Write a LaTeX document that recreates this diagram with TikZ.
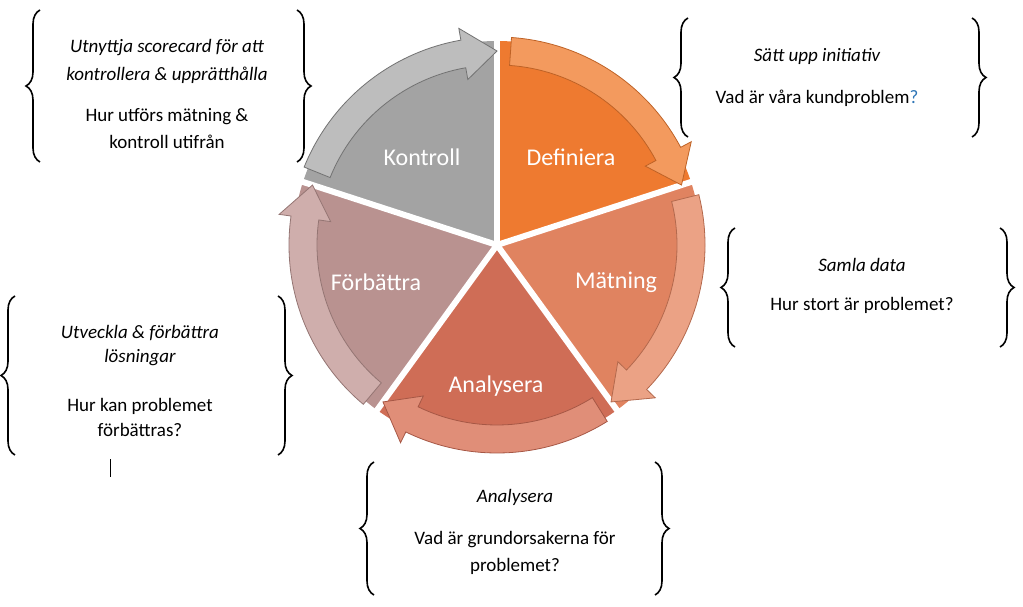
\documentclass[tikz,border=0pt]{standalone}
\usepackage{fontspec}
\setmainfont{Carlito}
\usetikzlibrary{calc,decorations.pathreplacing}
\definecolor{cDef}{HTML}{EE7A30}
\definecolor{cDefA}{HTML}{F39A5E}
\definecolor{cMat}{HTML}{E08360}
\definecolor{cMatA}{HTML}{EBA285}
\definecolor{cAna}{HTML}{CF6D56}
\definecolor{cAnaA}{HTML}{E08E78}
\definecolor{cFor}{HTML}{B99290}
\definecolor{cForA}{HTML}{CFAEAC}
\definecolor{cKon}{HTML}{A3A3A3}
\definecolor{cKonA}{HTML}{BDBDBD}
\definecolor{qblue}{HTML}{2E75B6}
\newcommand\mywedge[3]{\fill[#3] (C) -- ($(C)+(#1:204)$) arc[start angle=#1,end angle=#2,radius=204] -- cycle;}
\newcommand\myband[4]{%
 \fill[#3,draw=#4,line width=0.8pt] ($(C)+(#1:208)$) arc[start angle=#1,end angle=#2,radius=208]
  -- ($(C)+(#2:220)$) -- ($(C)+(#2-10:194)$) -- ($(C)+(#2:168)$) -- ($(C)+(#2:180)$)
  arc[start angle=#2,end angle=#1,radius=180] -- cycle;}
\begin{document}
\begin{tikzpicture}[x=1pt,y=1pt,
  brc/.style={decorate,decoration={brace,amplitude=14pt},line width=1.6pt},
  txt/.style={font=\fontsize{19}{24}\selectfont,align=center},
  lbl/.style={font=\fontsize{24}{28}\selectfont,text=white}]
\useasboundingbox (0,0) rectangle (1023,607);
\coordinate (C) at (497,362);
\mywedge{162}{90}{cKon}
\mywedge{90}{18}{cDef}
\mywedge{18}{-54}{cMat}
\mywedge{-54}{-126}{cAna}
\mywedge{-126}{-198}{cFor}
\foreach \a in {90,18,-54,-126,162}{\draw[white,line width=6pt] (C) -- ($(C)+(\a:230)$);}
\myband{158}{100}{cKonA}{cKon!70!black}
\myband{86}{28}{cDefA}{cDef!80!black}
\myband{14}{-44}{cMatA}{cMat!80!black}
\myband{-58}{-116}{cAnaA}{cAna!80!black}
\myband{-130}{-188}{cForA}{cFor!80!black}
\node[lbl] (k) at (422,450) {Kontroll};
\node[lbl] (d) at (571,450) {Definiera};
\node[lbl] (m) at (616,325) {Mätning};
\node[lbl] (an) at (496,221) {Analysera};
\node[lbl] (f) at (376,325) {Förbättra};
% top-left
\draw[brc] (40,445) -- (40,597);
\draw[brc] (297,597) -- (297,445);
\node[txt,font=\fontsize{19}{28}\selectfont\itshape] (t1) at (167,546) {Utnyttja scorecard för att\\kontrollera \& upprätthålla};
\node[txt,font=\fontsize{19}{27}\selectfont] (t2) at (167,478) {Hur utförs mätning \&\\kontroll utifrån};
% top-right
\draw[brc] (688,470) -- (688,589);
\draw[brc] (972,589) -- (972,470);
\node[txt,font=\fontsize{19}{24}\selectfont\itshape] (t3) at (817,551) {Sätt upp initiativ};
\node[txt] (t4) at (817,509) {Vad är våra kundproblem\textcolor{qblue}{?}};
% right
\draw[brc] (735,260) -- (735,379);
\draw[brc] (1000,379) -- (1000,260);
\node[txt,font=\fontsize{19}{24}\selectfont\itshape] (t5) at (862,342) {Samla data};
\node[txt] (t6) at (862,302) {Hur stort är problemet?};
% bottom
\draw[brc] (374,12) -- (374,145);
\draw[brc] (655,145) -- (655,12);
\node[txt,font=\fontsize{19}{24}\selectfont\itshape] (t7) at (515,110) {Analysera};
\node[txt,font=\fontsize{19}{27}\selectfont] (t8) at (515,54) {Vad är grundorsakerna för\\problemet?};
% left
\draw[brc] (15,152) -- (15,311);
\draw[brc] (278,311) -- (278,152);
\node[txt,font=\fontsize{19}{24}\selectfont\itshape] (t9) at (140,261) {Utveckla \& förbättra\\lösningar};
\node[txt,font=\fontsize{19}{25}\selectfont] (t10) at (140,190) {Hur kan problemet\\förbättras?};
\coordinate (cu1) at (110,130); \coordinate (cu2) at (110,148);
\draw[line width=0.8pt] (cu1) -- (cu2);
\end{tikzpicture}
\end{document}
